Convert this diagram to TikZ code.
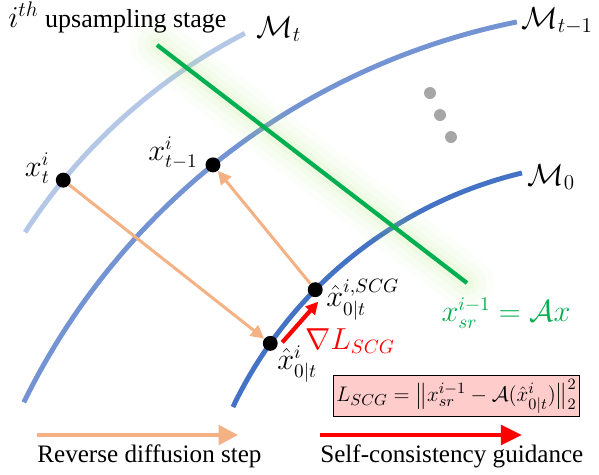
\documentclass[tikz,border=0pt]{standalone}
\usepackage{amsmath}
\usepackage{fontspec}
\setmainfont{Liberation Serif}
\usepackage{tikz}
\usetikzlibrary{arrows.meta}
\usetikzlibrary{positioning}
\definecolor{mtcol}{HTML}{B4C7E7}
\definecolor{mtonecol}{HTML}{7393D2}
\definecolor{mzerocol}{HTML}{4472C4}
\definecolor{stepcol}{HTML}{F4B183}
\definecolor{measgreen}{HTML}{00B050}
\definecolor{boxpink}{HTML}{FFCCCC}
\tikzset{
  manifold/.style={line width=2.8pt},
  dot/.style={circle, fill=black, inner sep=0pt, minimum size=8.5pt},
  revstep/.style={draw=stepcol, line width=1.7pt, -{Triangle[length=7.5pt,width=7.5pt]}},
  scg/.style={draw=red, line width=2.4pt, -{Triangle[length=7pt,width=7pt]}},
  lbl/.style={inner sep=0pt, font=\fontsize{16}{18}\selectfont},
  mlbl/.style={inner sep=0pt, font=\fontsize{18.5}{20}\selectfont},
  legend/.style={inner sep=0pt, font=\fontsize{14.3}{16}\selectfont}}

\begin{document}
\begin{tikzpicture}[x=0.02cm, y=-0.02cm]
	\useasboundingbox (0,0) rectangle (599,474);
	% points on the manifolds
	\coordinate (xt) at ({510.1+578.3*cos(219.4)},{547.2+578.3*sin(219.4)});
	\coordinate (xtone) at ({656+704*cos(231)},{712+704*sin(231)});
	\coordinate (xzero) at ({622.8+432*cos(215.3)},{593+432*sin(215.3)});
	\coordinate (xscg) at ({622.8+432*cos(224.6)},{593+432*sin(224.6)});
	\coordinate (mtend) at ({510.1+578.3*cos(242.7)},{547.2+578.3*sin(242.7)});
	\coordinate (mtoneend) at ({656+704*cos(258.6)},{712+704*sin(258.6)});
	\coordinate (mzeroend) at ({622.8+432*cos(256.5)},{593+432*sin(256.5)});
	% manifolds
	\draw [manifold, draw=mtcol] plot [domain=213:242.7, samples=40] ({510.1+578.3*cos(\x)},{547.2+578.3*sin(\x)});
	\draw [manifold, draw=mtonecol] plot [domain=206.1:258.6, samples=60] ({656+704*cos(\x)},{712+704*sin(\x)});
	\draw [manifold, draw=mzerocol] plot [domain=205.5:256.5, samples=60] ({622.8+432*cos(\x)},{593+432*sin(\x)});
	\node [mlbl, anchor=west] (mt) at (256,29) {$\mathcal{M}_t$};
	\node [mlbl, anchor=west] (mtone) at (521,21) {$\mathcal{M}_{t-1}$};
	\node [mlbl, anchor=west] (mzero) at (527,177) {$\mathcal{M}_0$};
	% measurement line
	\coordinate (ga) at (157,45);
	\coordinate (gb) at (467,283);
	\foreach \w/\o in {30/0.035, 22/0.045, 14/0.06, 8/0.08}
		\draw [line width=\w pt, draw=measgreen!50!yellow!70, opacity=\o, line cap=round] (ga) -- (gb);
	\draw [line width=2.4pt, draw=measgreen] (ga) -- (gb);
	\node [lbl, text=measgreen] (meas) at (506,313) {$x_{sr}^{i-1} = \mathcal{A}x$};
	% dots
	\foreach \p in {(430,93), (440,115), (451,137)}
		\fill [black!35] \p circle (6);
	\node [dot] (xtdot) at (xt) {};
	\node [dot] (xtonedot) at (xtone) {};
	\node [dot] (xzerodot) at (xzero) {};
	\node [dot] (xscgdot) at (xscg) {};
	\node [lbl, anchor=east] (xtlbl) at (50,168) {$x_t^i$};
	\node [lbl, anchor=east] (xtonelbl) at (198,153) {$x_{t-1}^i$};
	\node [lbl, anchor=west] (xscglbl) at (326,300) {$\hat{x}_{0|t}^{i,SCG}$};
	\node [lbl, anchor=west] (xzerolbl) at (277,364) {$\hat{x}_{0|t}^{i}$};
	% steps
	\draw [revstep] (xtdot) -- (xzerodot);
	\draw [revstep] (xscgdot) -- (xtonedot);
	\draw [scg] ([shift={(12,-1)}]xzerodot.center) -- ([shift={(3,12)}]xscgdot.center);
	\node [lbl, text=red, anchor=west] (grad) at (305,341) {$\nabla L_{SCG}$};
	\node [draw, fill=boxpink, line width=0.8pt, minimum width=140pt, minimum height=23.6pt, inner sep=1pt, font=\fontsize{13}{15}\selectfont] (loss) at (456.5,396)
		{$L_{SCG} = \bigl\| x_{sr}^{i-1} - \mathcal{A}(\hat{x}_{0|t}^{i}) \bigr\|_2^2$};
	% legend
	\node [legend, anchor=west] (title) at (8,17) {\fontsize{17}{19}\selectfont$i^{th}$\fontsize{14.8}{17}\selectfont{} upsampling stage};
	\coordinate (la) at (37,435);
	\coordinate (lb) at (238,435);
	\coordinate (lc) at (320,435);
	\coordinate (ld) at (522,435);
	\draw [revstep, line width=2.2pt, -{Triangle[length=11pt,width=11pt]}] (la) -- (lb);
	\draw [scg, line width=2.6pt, -{Triangle[length=12pt,width=11pt]}] (lc) -- (ld);
	\node [legend, anchor=west] (revtext) at (37,456) {Reverse diffusion step};
	\node [legend, anchor=west] (scgtext) at (320,456) {Self-consistency guidance};
\end{tikzpicture}
\end{document}
